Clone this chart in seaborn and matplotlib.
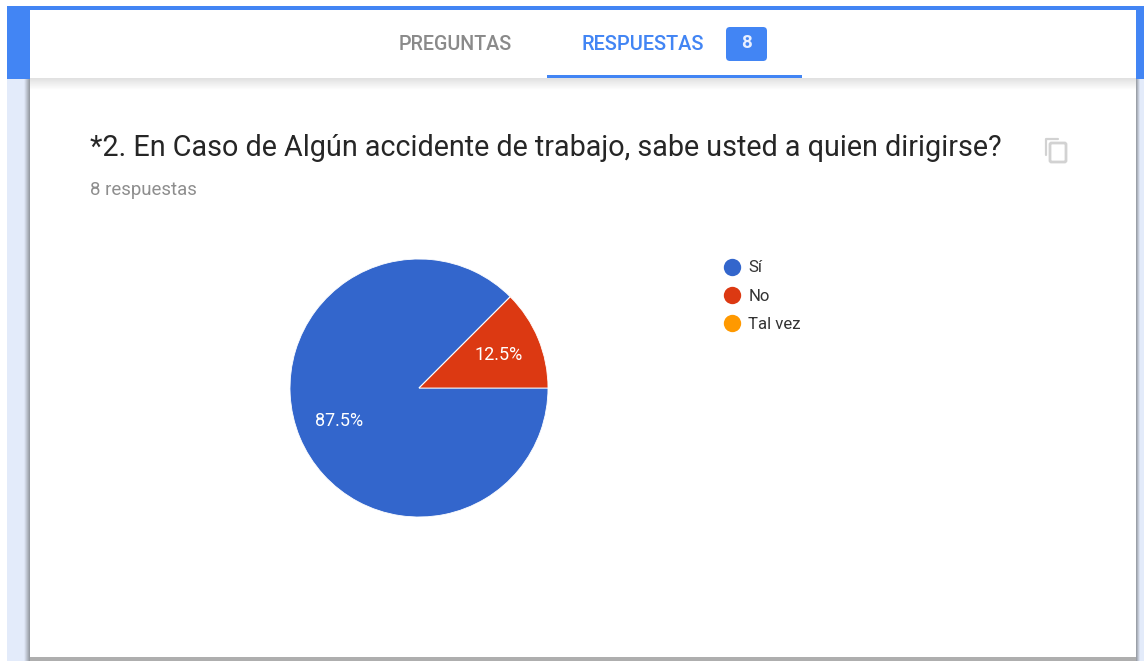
import numpy as np
import matplotlib
matplotlib.use('Agg')
import matplotlib.pyplot as plt
from matplotlib.lines import Line2D
from matplotlib.patches import FancyBboxPatch, Rectangle
import seaborn as sns

categories = ['Sí', 'No', 'Tal vez']
counts = [7, 1, 0]
colors = ['#3366cc', '#dc3912', '#ff9900']

tabs = ['PREGUNTAS', 'RESPUESTAS']
badge = '8'
title = '*2. En Caso de Algún accidente de trabajo, sabe usted a quien dirigirse?'
subtitle = '8 respuestas'

W, H = 1144, 661
BLUE = '#4285f4'
PAGE = '#e3ebfa'


def add_rect(ax, x0, y0, x1, y1, color, z=1):
    ax.add_patch(Rectangle((x0, y0), x1 - x0, y1 - y0, fc=color, ec='none', zorder=z))


def add_shadow(ax, extent, start, end, vertical=True, z=2):
    # soft edge of the card, start/end are the alpha of a dark grey
    ramp = np.linspace(start, end, 32)
    ramp = ramp[:, None] if vertical else ramp[None, :]
    rgba = np.zeros(ramp.shape + (4,))
    rgba[..., :3] = 0.25
    rgba[..., 3] = ramp
    ax.imshow(rgba, extent=extent, aspect='auto', interpolation='bilinear', zorder=z)


def draw_page(ax):
    add_rect(ax, 7, 79, 30, H, PAGE)
    add_rect(ax, 1136, 79, W, H, PAGE)
    add_rect(ax, 7, 6, W, 79, BLUE)
    add_rect(ax, 30, 10, 1136, 658, 'white')

    add_shadow(ax, (24, 30, H, 79), 0.0, 0.5, vertical=False)
    add_shadow(ax, (1136, 1140, H, 79), 0.5, 0.0, vertical=False)
    add_shadow(ax, (30, 1136, 90, 78), 0.16, 0.0)
    add_shadow(ax, (30, 1136, 661, 657), 0.42, 0.42)
    ax.set_xlim(0, W)
    ax.set_ylim(H, 0)

    # tabs
    ax.text(455, 44, tabs[0], color='#8a8a8a', fontsize=14.2, fontweight='medium',
            ha='center', va='center', zorder=4)
    ax.text(642.5, 44, tabs[1], color=BLUE, fontsize=14.3, fontweight='medium',
            ha='center', va='center', zorder=4)
    add_rect(ax, 547, 75, 802, 77.5, BLUE, z=4)
    ax.add_patch(FancyBboxPatch((729, 30), 35, 28, boxstyle='round,pad=3,rounding_size=4',
                                fc=BLUE, ec='none', zorder=4))
    ax.text(746.5, 43.5, badge, color='#e8efff', fontsize=13.5, fontweight='bold',
            ha='center', va='center', zorder=5)

    # title
    ax.text(90, 148, title, color='#262626', fontsize=20.67, ha='left', va='center', zorder=4)
    ax.text(90, 190, subtitle, color='#8e8e8e', fontsize=13.4, ha='left', va='center', zorder=4)

    # copy icon
    ax.add_patch(FancyBboxPatch((1050, 143), 16, 19, boxstyle='round,pad=0,rounding_size=1.5',
                                fc='white', ec='#d2d2d2', lw=2, zorder=5))
    ax.plot([1045.5, 1045.5, 1058], [155, 138.5, 138.5], color='#d2d2d2', lw=1.6, zorder=4)


sns.set_theme(style='white')
plt.rcParams['font.family'] = ['Roboto', 'DejaVu Sans']

fig = plt.figure(figsize=(W / 100, H / 100), dpi=100, facecolor='white')

bg = fig.add_axes([0, 0, 1, 1])
bg.set_axis_off()
draw_page(bg)

# pie is centred at 419,388 with a radius of 129 px
pie_ax = fig.add_axes([(419 - 129) / W, 1 - (388 + 129) / H, 258 / W, 258 / H])
pie_ax.patch.set_alpha(0)
wedges, labels, pcts = pie_ax.pie(counts, colors=sns.color_palette(colors), startangle=45,
                                  autopct=lambda p: f'{p:.1f}%' if p > 0 else '',
                                  pctdistance=0.67, radius=1,
                                  wedgeprops={'edgecolor': 'white', 'linewidth': 0.6},
                                  textprops={'color': 'white', 'fontsize': 13})
pie_ax.set_xlim(-1, 1)
pie_ax.set_ylim(-1, 1)

handles = [Line2D([], [], marker='o', ls='none', ms=12.5, mfc=c, mec='none') for c in colors]
fig.legend(handles, categories, loc='upper left', bbox_to_anchor=(721.5 / W, 1 - 260.5 / H),
           frameon=False, fontsize=12.1, labelcolor='#333333', handletextpad=0.4,
           handlelength=1.2, labelspacing=0.78, borderpad=0, borderaxespad=0)

fig.savefig('out.png', dpi=100, facecolor='white')
